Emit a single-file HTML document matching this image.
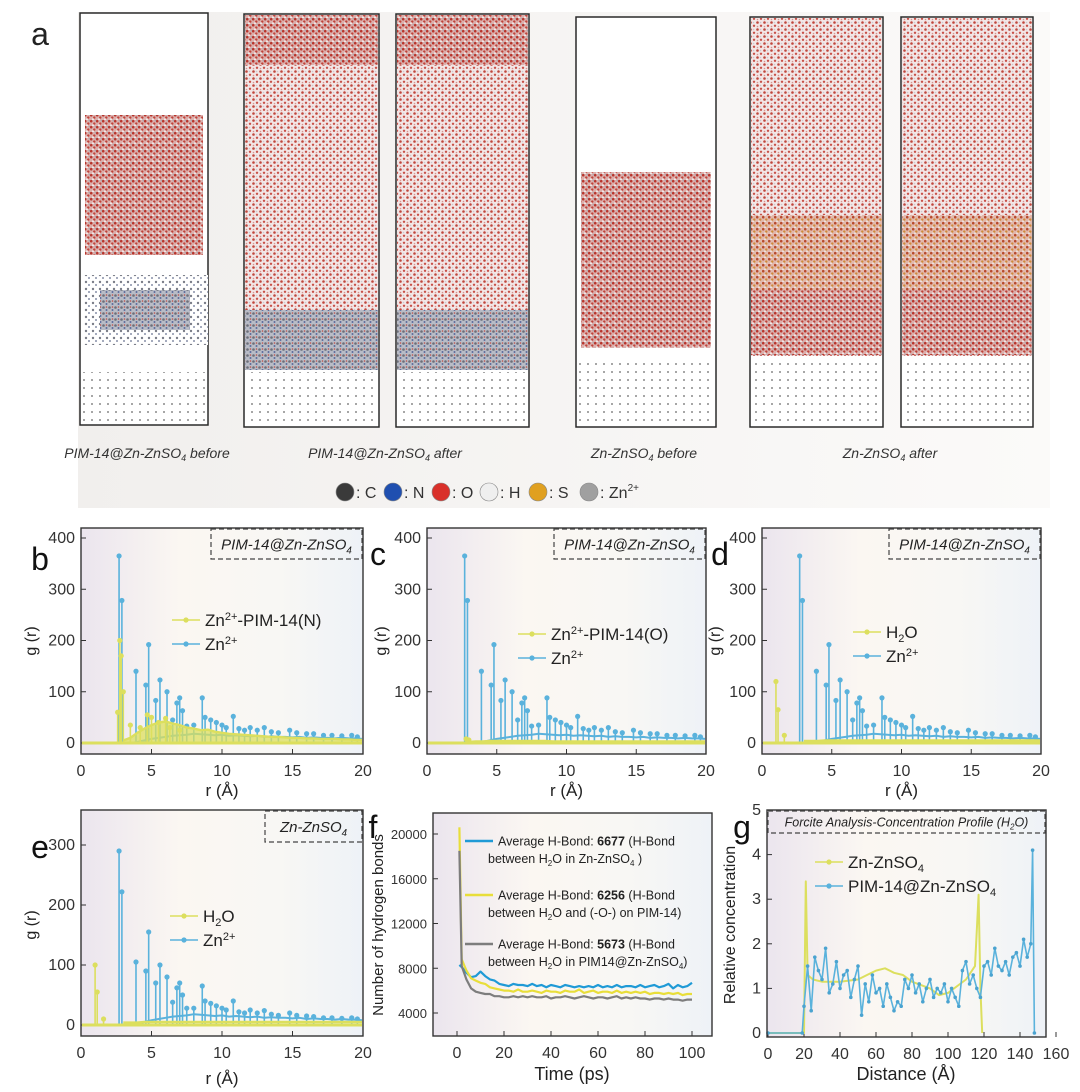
<!DOCTYPE html>
<html><head><meta charset="utf-8"><style>
html,body{margin:0;padding:0;background:#fff;}
svg{display:block;font-family:"Liberation Sans",Arial,sans-serif;}
</style></head><body>
<svg id="fig" width="1080" height="1092" viewBox="0 0 1080 1092" xmlns="http://www.w3.org/2000/svg">
<defs>
<linearGradient id="bgA" x1="0" x2="1" y1="0" y2="0"><stop offset="0" stop-color="#f1efed"/><stop offset="1" stop-color="#fbfaf9"/></linearGradient>
<linearGradient id="bgP" x1="0" x2="1" y1="0" y2="0"><stop offset="0" stop-color="#ebe5ee"/><stop offset="0.35" stop-color="#fbf7f2"/><stop offset="0.7" stop-color="#f8f7f4"/><stop offset="1" stop-color="#eef2f7"/></linearGradient>
<pattern id="dense" width="6" height="6" patternUnits="userSpaceOnUse"><rect width="6" height="6" fill="#dcb0ad"/><circle cx="1.2" cy="1.2" r="1.3" fill="#b8352c"/><circle cx="4.3" cy="3.6" r="1.2" fill="#c0433a"/><circle cx="3" cy="5.2" r="0.9" fill="#f4f4f4"/><circle cx="5.3" cy="0.8" r="0.7" fill="#9aa0ac"/></pattern>
<pattern id="sparse" width="7" height="7" patternUnits="userSpaceOnUse"><rect width="7" height="7" fill="#f3e6e6"/><circle cx="1.5" cy="1.5" r="1.3" fill="#c0463c"/><circle cx="5" cy="4.8" r="1.2" fill="#c85048"/><circle cx="4.5" cy="1.5" r="0.8" fill="#c8c8d0"/><circle cx="1.5" cy="5.5" r="0.8" fill="#d49490"/></pattern>
<pattern id="band" width="6" height="6" patternUnits="userSpaceOnUse"><rect width="6" height="6" fill="#e2b9ad"/><circle cx="1.2" cy="1.2" r="1.3" fill="#b84a2c"/><circle cx="4.3" cy="3.6" r="1.2" fill="#d08a3a"/><circle cx="3" cy="5.2" r="0.8" fill="#f4f4f4"/></pattern>
<pattern id="poly" width="6" height="6" patternUnits="userSpaceOnUse"><rect width="6" height="6" fill="#b9bcc6"/><circle cx="1.5" cy="1.5" r="1.3" fill="#6c6f7a"/><circle cx="4.5" cy="4" r="1" fill="#5a6a9a"/><circle cx="4.5" cy="1" r="0.8" fill="#c05048"/></pattern>
<pattern id="polyS" width="7" height="7" patternUnits="userSpaceOnUse"><rect width="7" height="7" fill="#fff"/><circle cx="2" cy="2" r="1.2" fill="#7a7d88"/><circle cx="5" cy="5" r="1" fill="#8890a8"/></pattern>
<pattern id="slab" width="8" height="8" patternUnits="userSpaceOnUse"><rect width="8" height="8" fill="#fff"/><circle cx="4" cy="4" r="0.9" fill="#666"/></pattern>
</defs>
<rect x="78" y="12" width="972" height="496" fill="url(#bgA)"/>
<g id="root"></g>
</svg>
<script>
// ---------- data ----------
const znR = [2.7,2.9,3.9,4.6,4.8,5.3,5.6,6.1,6.5,6.8,7.0,7.2,7.5,8.0,8.6,8.8,9.2,9.6,10.0,10.3,10.8,11.2,11.6,12.0,12.5,13.0,13.5,14.0,14.8,15.3,16.0,16.5,17.2,17.8,18.5,19.2,19.6];
const znG = [365,278,140,113,192,83,123,100,45,78,88,63,33,35,88,50,45,40,35,30,52,28,25,30,25,30,22,20,25,20,18,18,15,15,14,15,12];
const znGe = [290,222,105,90,155,70,100,80,38,62,70,50,28,28,65,40,36,32,28,25,40,22,20,25,20,24,18,16,20,16,15,14,12,12,11,12,10];
const floorR = [3,3.5,4,4.5,5,5.5,6,6.5,7,7.5,8,8.5,9,9.5,10,10.5,11,11.5,12,12.5,13,13.5,14,14.5,15,15.5,16,16.5,17,17.5,18,18.5,19,19.5,20];
const znFloor = [0,0,2,5,8,10,12,14,15,16,18,17,16,15,16,14,15,14,13,14,12,13,12,12,11,12,10,11,10,10,9,10,9,9,8];
const ynFloor = [5,10,20,28,35,40,42,38,35,30,28,25,26,22,20,18,17,16,15,14,13,12,12,11,10,10,9,9,8,8,8,7,7,6,6];
const yoFloor = [2,3,3,4,4,4,4,4,4,4,4,4,3,3,3,3,3,3,3,3,3,3,3,3,3,3,3,3,3,3,3,3,3,3,3];
const ywFloor = [4,4,4,5,5,5,5,5,5,5,5,5,5,5,5,5,5,5,5,5,5,5,5,5,5,5,5,5,5,5,5,5,5,5,5];
const ynR = [2.6,2.75,2.85,3.0,3.5,4.2,4.7,5.0,5.5,6.0,6.3,7.0];
const ynG = [60,200,170,100,35,30,55,50,40,48,30,25];
const yoR = [2.8,3.0];
const yoG = [8,6];
const ywR = [1.0,1.15,1.6];
const ywG = [120,65,15];
const yweG = [100,55,10];
// panel f
const tF = [1,2,4,6,8,10,12,14,16,18,20,22,24,26,28,30,32,34,36,38,40,42,44,46,48,50,52,54,56,58,60,62,64,66,68,70,72,74,76,78,80,82,84,86,88,90,92,94,96,98,100];
const hbBlue = [8300,8100,7600,7200,7300,7700,7300,7000,6900,6600,6500,6400,6600,6500,6500,6400,6600,6400,6500,6300,6500,6400,6300,6500,6400,6300,6400,6300,6400,6300,6500,6300,6400,6300,6500,6300,6400,6400,6300,6500,6300,6400,6500,6300,6400,6600,6200,6500,6300,6400,6700];
const hbYellow = [20600,8800,7800,7100,6900,6700,6600,6300,6200,6100,6000,6000,5900,6100,5900,5900,6000,5900,5800,6000,5900,5900,5800,6000,5900,5900,6100,5800,5900,6000,5800,5900,5900,5800,6000,5800,5900,5800,5900,5800,5900,5700,5800,5800,5700,5800,5700,5800,5600,5700,5700];
const hbGray = [18500,8200,7000,6200,5900,5800,5700,5700,5500,5500,5400,5400,5500,5400,5500,5400,5500,5400,5400,5500,5300,5400,5400,5500,5400,5300,5400,5500,5400,5300,5400,5400,5300,5400,5500,5300,5400,5300,5400,5300,5300,5200,5300,5300,5200,5300,5200,5200,5100,5200,5200];
// panel g
const gBx = [0,19,20,22,24,26,28,30,32,34,36,38,40,42,44,46,48,50,52,54,56,58,60,62,64,66,68,70,72,74,76,78,80,82,84,86,88,90,92,94,96,98,100,102,104,106,108,110,112,114,116,118,120,122,124,126,128,130,132,134,136,138,140,142,144,146,147,148];
const gBy = [0,0,0.6,1.5,0.5,1.7,1.4,1.2,1.9,0.9,1.1,1.6,1.0,1.3,1.4,0.8,1.2,1.5,0.4,1.1,0.7,1.3,0.9,1.0,0.6,1.1,0.8,0.5,0.7,0.6,1.2,1.0,1.3,0.9,1.1,0.7,1.0,1.2,0.8,1.0,0.9,1.1,0.7,1.0,0.8,0.6,1.4,1.6,1.1,1.3,1.0,0.8,1.5,1.6,1.3,1.9,1.5,1.4,1.6,1.3,1.7,1.8,1.5,2.1,1.7,2.0,4.1,0];
const gYx = [0,20,21,22,25,30,40,50,55,60,65,70,75,80,90,95,100,110,115,117,118,119];
const gYy = [0,0,3.4,1.3,1.2,1.15,1.15,1.2,1.3,1.4,1.45,1.35,1.3,1.15,1.0,0.85,0.9,1.2,1.5,3.1,1.0,0];
const rTicks = [0,5,10,15,20];
const gTicks400 = [0,100,200,300,400];
const gTicks300 = [0,100,200,300];
const tTicks = [0,20,40,60,80,100];
const hbTicks = [4000,8000,12000,16000,20000];
const dTicks = [0,20,40,60,80,100,120,140,160];
const cTicks = [0,1,2,3,4,5];

const NS = 'http://www.w3.org/2000/svg';
const root = document.getElementById('root');
const BLUE = '#5ab2dc', YEL = '#dcdf5e', GRAY = '#7d7d7d', FBLUE = '#1f9ad6', FYEL = '#e8de3a';
function el(tag, attrs, parent){const e=document.createElementNS(NS,tag);for(const k in attrs)e.setAttribute(k,attrs[k]);(parent||root).appendChild(e);return e;}
function txt(s,x,y,size,opts,parent){const t=el('text',Object.assign({x:x,y:y,'font-size':size,fill:'#222'},opts||{}),parent);t.textContent=s;return t;}

// ---------- panel a ----------
function cell(x,y,w,h,name){const r=el('rect',{x:x,y:y,width:w,height:h,fill:'#fff',stroke:'#2a2a2a','stroke-width':1.5});

}
function fillR(x,y,w,h,pat,name){const r=el('rect',{x:x,y:y,width:w,height:h,fill:'url(#'+pat+')'});

}
const cells=[[80,13,128,412],[244,14,135,413],[396,14,133,413],[576,17,140,410],[750,17,133,410],[901,17,132,410]];
cells.forEach((c,i)=>cell(c[0],c[1],c[2],c[3],'simulation-cell-'+(i+1)));
fillR(85,115,118,140,'dense','water-block');
fillR(84,275,124,70,'polyS','pim14-polymer');
fillR(100,290,90,40,'poly','pim14-polymer-core');
fillR(82,372,124,52,'slab','zn-slab');
[1,2].forEach(i=>{const c=cells[i];
fillR(c[0]+1,c[1]+1,c[2]-2,300,'sparse','water-sparse');
fillR(c[0]+1,c[1]+1,c[2]-2,50,'dense','water-top');
fillR(c[0]+1,310,c[2]-2,60,'poly','polymer-layer');
fillR(c[0]+1,372,c[2]-2,54,'slab','zn-slab');});
fillR(581,172,130,176,'dense','water-block');
fillR(578,358,136,68,'slab','zn-slab');
[4,5].forEach(i=>{const c=cells[i];
fillR(c[0]+1,c[1]+1,c[2]-2,338,'sparse','water-sparse');
fillR(c[0]+1,215,c[2]-2,75,'band','ion-band');
fillR(c[0]+1,290,c[2]-2,65,'dense','water-lower');
fillR(c[0]+1,360,c[2]-2,66,'slab','zn-slab');});
let lt;
lt=txt('a',40,45,32,{'text-anchor':'middle'});


function capt(parts,x,name){const t=el('text',{x:x,y:458,'font-size':14,'font-style':'italic','text-anchor':'middle',fill:'#333'});


t.innerHTML=parts;}
capt('PIM-14@Zn-ZnSO<tspan font-size="9" dy="3">4</tspan><tspan dy="-3"> before</tspan>',147,'caption-pim-before');
capt('PIM-14@Zn-ZnSO<tspan font-size="9" dy="3">4</tspan><tspan dy="-3"> after</tspan>',385,'caption-pim-after');
capt('Zn-ZnSO<tspan font-size="9" dy="3">4</tspan><tspan dy="-3"> before</tspan>',644,'caption-zn-before');
capt('Zn-ZnSO<tspan font-size="9" dy="3">4</tspan><tspan dy="-3"> after</tspan>',890,'caption-zn-after');
const atoms=[[345,'#3a3a3a',': C'],[393,'#1f4fb0',': N'],[441,'#d9302a',': O'],[489,'#efefef',': H'],[538,'#e0a020',': S'],[589,'#a0a0a0',': Zn']];
atoms.forEach(a=>{const c=el('circle',{cx:a[0],cy:492,r:9,fill:a[1],stroke:'#888','stroke-width':0.6});


const t=txt(a[2],a[0]+11,498,16,{fill:'#333'});


if(a[2]===': Zn'){const s=el('tspan',{'font-size':10,dy:-7},t);s.textContent='2+';}});

// ---------- chart helpers ----------
function makeChart(cfg){
 const g=el('g',{});
 
 
 const bg=el('rect',{x:cfg.x0,y:cfg.y0,width:cfg.x1-cfg.x0,height:cfg.y1-cfg.y0,fill:'url(#bgP)'},g);
 
 
 const sx=v=>cfg.xa+(v-cfg.xd0)*cfg.xk, sy=v=>cfg.ya-(v-cfg.yd0)*cfg.yk;
 cfg.sx=sx;cfg.sy=sy;cfg.g=g;
 cfg.xt.forEach(v=>{const x=sx(v);const tk=el('line',{x1:x,x2:x,y1:cfg.y1,y2:cfg.y1-5,stroke:'#333','stroke-width':1},g);
  
  
  const t=txt(String(v),x,cfg.y1+22,16,{'text-anchor':'middle',fill:'#333'},g);
  
  });
 cfg.yt.forEach(v=>{const y=sy(v);const tk=el('line',{x1:cfg.x0,x2:cfg.x0+5,y1:y,y2:y,stroke:'#333','stroke-width':1},g);
  
  
  const t=txt(String(v),cfg.x0-6,y+5,cfg.yfs||16,{'text-anchor':'end',fill:'#333'},g);
  
  });
 return cfg;
}
function frame(cfg){const f=el('rect',{x:cfg.x0,y:cfg.y0,width:cfg.x1-cfg.x0,height:cfg.y1-cfg.y0,fill:'none',stroke:'#333','stroke-width':1.4},cfg.g);
 
 }
function clipX(cfg,v){return Math.min(cfg.x1-1,Math.max(cfg.x0+1,v));}
function polyline(cfg,xs,ys,color,w,name,fill){
 let pts=xs.map((x,i)=>clipX(cfg,cfg.sx(x)).toFixed(1)+','+cfg.sy(ys[i]).toFixed(1)).join(' ');
 if(fill){const a=el('polygon',{points:clipX(cfg,cfg.sx(xs[0]))+','+cfg.sy(0)+' '+pts+' '+clipX(cfg,cfg.sx(xs[xs.length-1]))+','+cfg.sy(0),fill:color,opacity:0.75},cfg.g);
  
  }
 const p=el('polyline',{points:pts,fill:'none',stroke:color,'stroke-width':w,'stroke-linejoin':'round'},cfg.g);
 
 
}
function stems(cfg,rs,gs,color,name){
 rs.forEach((r,i)=>{const x=cfg.sx(r);
  const l=el('line',{x1:x,x2:x,y1:cfg.sy(0),y2:cfg.sy(gs[i]),stroke:color,'stroke-width':1.6},cfg.g);
  
  
  const c=el('circle',{cx:x,cy:cfg.sy(gs[i]),r:2.6,fill:color},cfg.g);
  
  });
}
function baseline(cfg,color){const l=el('line',{x1:cfg.x0+1,x2:cfg.x1-1,y1:cfg.sy(0),y2:cfg.sy(0),stroke:color,'stroke-width':3},cfg.g);
 
 }
function legendEntry(cfg,x,y,color,html,fs,name,marker){
 const l=el('line',{x1:x,x2:x+28,y1:y,y2:y,stroke:color,'stroke-width':marker?1.6:2.6},cfg.g);
 
 
 if(marker){const c=el('circle',{cx:x+14,cy:y,r:2.6,fill:color},cfg.g);
  
  }
 const t=el('text',{x:x+33,y:y+fs*0.36,'font-size':fs,fill:'#222'},cfg.g);
 
 
 t.innerHTML=html;
}
function dashBox(cfg,x,y,w,h,html,fs,name){
 const r=el('rect',{x:x,y:y,width:w,height:h,fill:'none',stroke:'#444','stroke-width':1.2,'stroke-dasharray':'5,3'},cfg.g);
 
 
 const t=el('text',{x:x+w/2,y:y+h/2+fs*0.36,'font-size':fs,'font-style':'italic','text-anchor':'middle',fill:'#222'},cfg.g);
 
 
 t.innerHTML=html;
}
function axisTitles(cfg,xt,xx,xy,yt,yx,yy,fs,xfs){
 const a=el('text',{x:xx,y:xy,'font-size':xfs||fs,'text-anchor':'middle',fill:'#222'},cfg.g);
 
 
 a.innerHTML=xt;
 const b=el('text',{x:yx,y:yy,'font-size':fs,'text-anchor':'middle',fill:'#222',transform:'rotate(-90 '+yx+' '+yy+')'},cfg.g);
 
 
 b.innerHTML=yt;
}
function panelLetter(s,x,y){const t=txt(s,x,y,32,{'text-anchor':'middle',fill:'#111'});
 
 }
const PIMBOX='PIM-14@Zn-ZnSO<tspan font-size="0.65em" dy="4">4</tspan>';

function rdfPanel(letter,x0,x1,yLow,yR,yG,yFloor,fill,label,ytx){
 const c=makeChart({name:'chart-'+letter,x0:x0,x1:x1,y0:528,y1:754,xa:x0,xd0:0,xk:(x1-x0)/20,ya:743,yd0:0,yk:0.5125,xt:rTicks,yt:gTicks400});
 polyline(c,floorR,znFloor,BLUE,2,'zn-series-floor');
 stems(c,znR,znG,BLUE,'zn-series');
 polyline(c,floorR,yFloor,YEL,2.4,'yellow-series-floor',fill);
 stems(c,yR,yG,YEL,'yellow-series');
 baseline(c,YEL);
 frame(c);
 dashBox(c,x1-152,529,151,30,PIMBOX,15,'condition-label');
 legendEntry(c,x0+91,yLow,YEL,label,17,'legend-entry-yellow',true);
 legendEntry(c,x0+91,yLow+24,BLUE,'Zn<tspan font-size="11" dy="-6">2+</tspan>',17,'legend-entry-zn',true);
 axisTitles(c,'r (Å)',(x0+x1)/2,796,'g (r)',ytx,641,16,17);
 return c;
}
rdfPanel('b',81,363,620,ynR,ynG,ynFloor,true,'Zn<tspan font-size="11" dy="-6">2+</tspan><tspan dy="6">-PIM-14(N)</tspan>',36);
rdfPanel('c',427,706,634,yoR,yoG,yoFloor,false,'Zn<tspan font-size="11" dy="-6">2+</tspan><tspan dy="6">-PIM-14(O)</tspan>',386);
rdfPanel('d',762,1041,632,ywR,ywG,ywFloor,false,'H<tspan font-size="11" dy="4">2</tspan><tspan dy="-4">O</tspan>',720);
panelLetter('b',40,570);panelLetter('c',378,565);panelLetter('d',720,565);

(function(){
 const c=makeChart({name:'chart-e',x0:81,x1:363,y0:810,y1:1036,xa:81,xd0:0,xk:282/20,ya:1025,yd0:0,yk:0.6,xt:rTicks,yt:gTicks300});
 polyline(c,floorR,znFloor,BLUE,2,'zn-series-floor');
 stems(c,znR,znGe,BLUE,'zn-series');
 polyline(c,floorR,ywFloor,YEL,2.4,'h2o-series-floor');
 stems(c,ywR,yweG,YEL,'h2o-series');
 baseline(c,YEL);
 frame(c);
 dashBox(c,265,811,97,31,'Zn-ZnSO<tspan font-size="0.65em" dy="4">4</tspan>',15,'condition-label');
 legendEntry(c,170,916,YEL,'H<tspan font-size="11" dy="4">2</tspan><tspan dy="-4">O</tspan>',17,'legend-entry-h2o',true);
 legendEntry(c,170,940,BLUE,'Zn<tspan font-size="11" dy="-6">2+</tspan>',17,'legend-entry-zn',true);
 axisTitles(c,'r (Å)',222,1084,'g (r)',36,925,16,17);
})();
panelLetter('e',40,858);

(function(){
 const c=makeChart({name:'chart-f',x0:433,x1:712,y0:813,y1:1036,xa:457,xd0:0,xk:2.35,ya:834,yd0:20000,yk:179/16000,xt:tTicks,yt:hbTicks,yfs:13});
 polyline(c,tF,hbBlue,FBLUE,2.2,'series-zn-znso4');
 polyline(c,tF,hbYellow,FYEL,2.2,'series-h2o-pim14');
 polyline(c,tF,hbGray,GRAY,2.2,'series-pim14-zn-znso4');
 frame(c);
 legendEntry(c,465,841,FBLUE,'Average H-Bond: <tspan font-weight="bold">6677</tspan> (H-Bond',12.5,'legend-entry-blue',false);
 let t=txt('',488,863,12.5,{},c.g);t.innerHTML='between H<tspan font-size="8" dy="3">2</tspan><tspan dy="-3">O in Zn-ZnSO</tspan><tspan font-size="8" dy="3">4</tspan><tspan dy="-3"> )</tspan>';
 
 
 legendEntry(c,465,895,FYEL,'Average H-Bond: <tspan font-weight="bold">6256</tspan> (H-Bond',12.5,'legend-entry-yellow',false);
 t=txt('',488,917,12.5,{},c.g);t.innerHTML='between H<tspan font-size="8" dy="3">2</tspan><tspan dy="-3">O and (-O-) on PIM-14)</tspan>';
 
 
 legendEntry(c,465,944,GRAY,'Average H-Bond: <tspan font-weight="bold">5673</tspan> (H-Bond',12.5,'legend-entry-gray',false);
 t=txt('',488,966,12.5,{},c.g);t.innerHTML='between H<tspan font-size="8" dy="3">2</tspan><tspan dy="-3">O in PIM14@Zn-ZnSO</tspan><tspan font-size="8" dy="3">4</tspan><tspan dy="-3">)</tspan>';
 
 
 axisTitles(c,'Time (ps)',572,1080,'Number of hydrogen bonds',383,925,15,18);
})();
panelLetter('f',373,838);

(function(){
 const c=makeChart({name:'chart-g',x0:767,x1:1046,y0:810,y1:1037,xa:768,xd0:0,xk:1.8,ya:1033,yd0:0,yk:44.6,xt:dTicks,yt:cTicks});
 polyline(c,gYx,gYy,YEL,2,'series-zn-znso4');
 polyline(c,gBx,gBy,BLUE,1.6,'series-pim14');
 gBx.forEach((x,i)=>{const m=el('circle',{cx:clipX(c,c.sx(x)),cy:c.sy(gBy[i]),r:1.8,fill:'#4aa3d0'},c.g);
  
  });
 frame(c);
 dashBox(c,768,811,277,22,'Forcite Analysis-Concentration Profile (H<tspan font-size="8" dy="3">2</tspan><tspan dy="-3">O)</tspan>',12.5,'condition-label');
 legendEntry(c,815,862,YEL,'Zn-ZnSO<tspan font-size="11" dy="4">4</tspan>',17,'legend-entry-zn-znso4',true);
 legendEntry(c,815,886,BLUE,'PIM-14@Zn-ZnSO<tspan font-size="11" dy="4">4</tspan>',17,'legend-entry-pim14',true);
 axisTitles(c,'Distance (Å)',906,1080,'Relative  concentration',735,925,16,18);
})();
panelLetter('g',742,838);
</script>
</body></html>
